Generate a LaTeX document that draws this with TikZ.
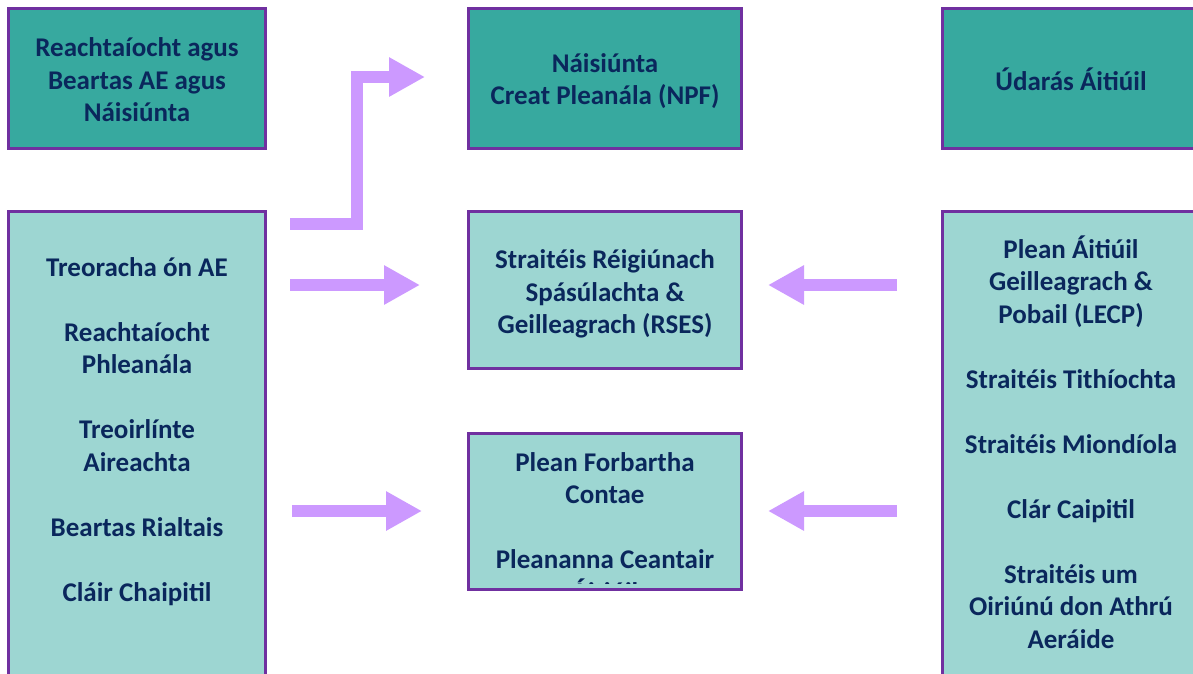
\documentclass[tikz,border=0pt]{standalone}
\usepackage{fontspec}
\setmainfont{Carlito}
\usetikzlibrary{arrows.meta}
\definecolor{tealdark}{HTML}{37A99F}
\definecolor{teallight}{HTML}{9DD6D2}
\definecolor{boxborder}{HTML}{7030A0}
\definecolor{navytext}{HTML}{0A275C}
\definecolor{lilac}{HTML}{CC99FF}
\tikzset{
 panel/.style={draw=boxborder, line width=3pt, inner sep=0pt, outer sep=0pt},
 darkpanel/.style={panel, fill=tealdark},
 lightpanel/.style={panel, fill=teallight},
 boxtext/.style={text=navytext, font=\fontsize{27}{32.5}\selectfont\bfseries, align=center, inner sep=0pt},
 flow/.style={draw=lilac, line width=12pt, line join=miter, -{Triangle[length=36pt,width=37pt]}},
}
\begin{document}
\begin{tikzpicture}[x=1pt,y=-1pt]
\clip (0,0) rectangle (1193,673);
\fill[white] (0,0) rectangle (1193,673);
% top row
\node[darkpanel, minimum width=257pt, minimum height=140pt] (eu) at (137,78.5) {};
\node[boxtext] (eut) at (137,80) {Reachtaíocht agus\\Beartas AE agus\\Náisiúnta};
\node[darkpanel, minimum width=273pt, minimum height=140pt] (npf) at (605,78.5) {};
\node[boxtext] (npft) at (605,81) {Náisiúnta\\Creat Pleanála (NPF)};
\node[darkpanel, minimum width=257pt, minimum height=140pt] (ua) at (1071,78.5) {};
\node[boxtext] (uat) at (1071,79) {Údarás Áitiúil};
% left column
\node[lightpanel, minimum width=257pt, minimum height=490pt] (left) at (137,456.5) {};
\node[boxtext] (leftt) at (137,431.5) {Treoracha ón AE\\[32.5pt]Reachtaíocht\\Phleanála\\[32.5pt]Treoirlínte\\Aireachta\\[32.5pt]Beartas Rialtais\\[32.5pt]Cláir Chaipitil};
% middle column
\node[lightpanel, minimum width=273pt, minimum height=157pt] (rses) at (605,290) {};
\node[boxtext] (rsest) at (605,294) {Straitéis Réigiúnach\\Spásúlachta \&\\Geilleagrach (RSES)};
\node[lightpanel, minimum width=273pt, minimum height=156pt] (pfc) at (605,511.5) {};
\begin{scope}
\clip (469,434) rectangle (741,583);
\node[boxtext] (pfct) at (605,527) {Plean Forbartha\\Contae\\[32.5pt]Pleananna Ceantair\\Áitiúil};
\end{scope}
% right column
\node[lightpanel, minimum width=257pt, minimum height=490pt] (right) at (1071,456.5) {};
\node[boxtext] (rightt) at (1071,442) {Plean Áitiúil\\Geilleagrach \&\\Pobail (LECP)\\[32.5pt]Straitéis Tithíochta\\[32.5pt]Straitéis Miondíola\\[32.5pt]Clár Caipitil\\[32.5pt]Straitéis um\\Oiriúnú don Athrú\\Aeráide};
% arrows
\coordinate (a1s) at (290,224);
\coordinate (a1t) at (425,77);
\draw[flow] (a1s) -- ++(67,0) |- (a1t);
\coordinate (a2s) at (290,285);
\coordinate (a2t) at (420,285);
\draw[flow] (a2s) -- (a2t);
\coordinate (a3s) at (292,511);
\coordinate (a3t) at (422,511);
\draw[flow] (a3s) -- (a3t);
\coordinate (a4s) at (897,285);
\coordinate (a4t) at (768,285);
\draw[flow] (a4s) -- (a4t);
\coordinate (a5s) at (897,511);
\coordinate (a5t) at (768,511);
\draw[flow] (a5s) -- (a5t);
\end{tikzpicture}
\end{document}
